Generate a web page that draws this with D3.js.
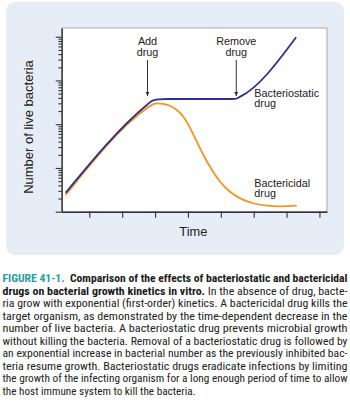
<!DOCTYPE html>
<html><head><meta charset="utf-8">
<script src="https://cdn.jsdelivr.net/npm/d3@7"></script>
<style>
html,body{margin:0;padding:0;background:#fff;}
svg{display:block;}
</style></head>
<body>
<svg id="chart" width="350" height="417"></svg>
<script>
// ---- data ----
const staticTime   = [0.28, 2.75, 2.90, 3.10, 3.40, 5.30, 5.44, 5.59, 7.29];
const staticCount  = [2.7, 275, 339, 371, 377, 377, 380, 426, 9700];
const cidalTime    = [0.28, 2.75, 2.93, 3.08, 3.25, 3.46, 3.66, 3.86, 4.07, 4.27, 4.47, 4.67, 4.98, 5.28, 5.59, 5.99, 6.40, 6.81, 7.31];
const cidalCount   = [2.41, 231, 285, 301, 290, 261, 211, 148, 80.5, 39.8, 19.8, 10.7, 4.85, 2.86, 2.02, 1.56, 1.37, 1.33, 1.37];
const xTicks = [1, 2, 3, 4, 5, 6, 7, 8];
const yMajorTicks = [1, 10, 100, 1000, 10000];
const events = [
  {time: 2.77, label: ["Add", "drug"]},
  {time: 5.47, label: ["Remove", "drug"]}
];
const seriesLabels = [
  {name: "static", lines: ["Bacteriostatic", "drug"]},
  {name: "cidal", lines: ["Bactericidal", "drug"]}
];
const xTitle = "Time";
const yTitle = "Number of live bacteria";
const captionLines = [
  [{t:"FIGURE 41-1.", c:"fig"}, {t:"\u00a0\u00a0Comparison of the effects of bacteriostatic and bactericidal", c:"b"}],
  [{t:"drugs on bacterial growth kinetics in vitro.", c:"b"}, {t:" In the absence of drug, bacte-", c:"n"}],
  [{t:"ria grow with exponential (first-order) kinetics. A bactericidal drug kills the", c:"n"}],
  [{t:"target organism, as demonstrated by the time-dependent decrease in the", c:"n"}],
  [{t:"number of live bacteria. A bacteriostatic drug prevents microbial growth", c:"n"}],
  [{t:"without killing the bacteria. Removal of a bacteriostatic drug is followed by", c:"n"}],
  [{t:"an exponential increase in bacterial number as the previously inhibited bac-", c:"n"}],
  [{t:"teria resume growth. Bacteriostatic drugs eradicate infections by limiting", c:"n"}],
  [{t:"the growth of the infecting organism for a long enough period of time to allow", c:"n"}],
  [{t:"the host immune system to kill the bacteria.", c:"n"}]
];

// ---- layout ----
const svg = d3.select("#chart");
const plot = {left: 61.7, top: 28, right: 327, bottom: 211.7};
const font = "'Liberation Sans', Arial, Helvetica, sans-serif";

svg.append("rect").attr("x", 6).attr("y", 2).attr("width", 338).attr("height", 253)
  .attr("rx", 9).attr("fill", "#e7edf6");
svg.append("rect").attr("x", plot.left).attr("y", plot.top)
  .attr("width", plot.right - plot.left).attr("height", plot.bottom - plot.top)
  .attr("fill", "#fff").attr("stroke", "#a8a8a8").attr("stroke-width", 1);

const x = d3.scaleLinear().domain([0.16, 8.23]).range([plot.left, plot.right]);
const y = d3.scaleLog().domain([1, 15830]).range([plot.bottom, plot.top]);

// y minor ticks
const yMinor = [];
for (let k = 0; k < 4; k++) for (let m = 2; m <= 9; m++) yMinor.push(m * Math.pow(10, k));

const gy2 = svg.append("g").attr("transform", `translate(${plot.left},0)`)
  .call(d3.axisLeft(y).tickValues(yMinor).tickSize(3.3).tickSizeOuter(0).tickFormat(""));
gy2.select(".domain").remove();
const gy = svg.append("g").attr("transform", `translate(${plot.left},0)`)
  .call(d3.axisLeft(y).tickValues(yMajorTicks).tickSize(6).tickSizeOuter(0).tickFormat(""));
const gx = svg.append("g").attr("transform", `translate(0,${plot.bottom})`)
  .call(d3.axisBottom(x).tickValues(xTicks).tickSize(6).tickSizeOuter(0).tickFormat(""));
[gy, gy2, gx].forEach(g => {
  g.selectAll("line").attr("stroke", "#333").attr("stroke-width", 1.1);
  g.selectAll(".domain").attr("stroke", "#333").attr("stroke-width", 1.4);
});

// curves
const line = d3.line().x(d => x(d[0])).y(d => y(d[1])).curve(d3.curveMonotoneX);
svg.append("path").datum(cidalTime.map((t, i) => [t, cidalCount[i]]))
  .attr("d", line).attr("fill", "none").attr("stroke", "#f7941d").attr("stroke-width", 1.8);
svg.append("path").datum(staticTime.map((t, i) => [t, staticCount[i]]))
  .attr("d", line).attr("fill", "none").attr("stroke", "#2b2f8e").attr("stroke-width", 1.8);

// arrows
const defs = svg.append("defs");
defs.append("marker").attr("id", "ah").attr("viewBox", "0 0 10 10").attr("refX", 10).attr("refY", 5)
  .attr("markerWidth", 4.5).attr("markerHeight", 5.5).attr("markerUnits", "userSpaceOnUse").attr("orient", "auto")
  .append("path").attr("d", "M0,0L10,5L0,10Z").attr("fill", "#333");
events.forEach(ev => {
  const cx = x(ev.time);
  svg.append("line").attr("x1", cx).attr("x2", cx).attr("y1", 60).attr("y2", 96)
    .attr("stroke", "#333").attr("stroke-width", 1).attr("marker-end", "url(#ah)");
  ev.label.forEach((s, i) => {
    svg.append("text").attr("x", cx).attr("y", 45 + i * 10.5).attr("text-anchor", "middle")
      .attr("font-family", font).attr("font-size", 10.8).attr("fill", "#222").text(s);
  });
});

// series labels
const labelPos = {static: 96.5, cidal: 186.5};
seriesLabels.forEach(sl => {
  sl.lines.forEach((s, i) => {
    svg.append("text").attr("x", 254.3).attr("y", labelPos[sl.name] + i * 10.8)
      .attr("font-family", font).attr("font-size", 10.8).attr("fill", "#222").text(s);
  });
});

// axis titles
svg.append("text").attr("x", 193.3).attr("y", 236).attr("text-anchor", "middle")
  .attr("font-family", font).attr("font-size", 12.8).attr("fill", "#222").text(xTitle);
svg.append("text").attr("transform", "translate(33,127) rotate(-90)").attr("text-anchor", "middle")
  .attr("font-family", font).attr("font-size", 13).attr("fill", "#222").text(yTitle);

// caption
const capFont = "'Liberation Sans Narrow', 'Roboto Condensed', 'Liberation Sans', Arial, sans-serif";
captionLines.forEach((ln, i) => {
  const last = i === captionLines.length - 1;
  const t = svg.append("text").attr("x", 2.5).attr("y", 282 + i * 12.5)
    .attr("font-family", capFont).attr("font-size", 10.6).attr("fill", "#222")
    .attr("textLength", last ? 193 : 345).attr("lengthAdjust", "spacingAndGlyphs");
  ln.forEach(seg => {
    const ts = t.append("tspan").text(seg.t);
    if (seg.c === "fig") ts.attr("fill", "#2a9d9c").attr("font-weight", "bold");
    if (seg.c === "b") ts.attr("font-weight", "bold").attr("fill", "#1a1a1a");
  });
});
</script>
</body></html>
